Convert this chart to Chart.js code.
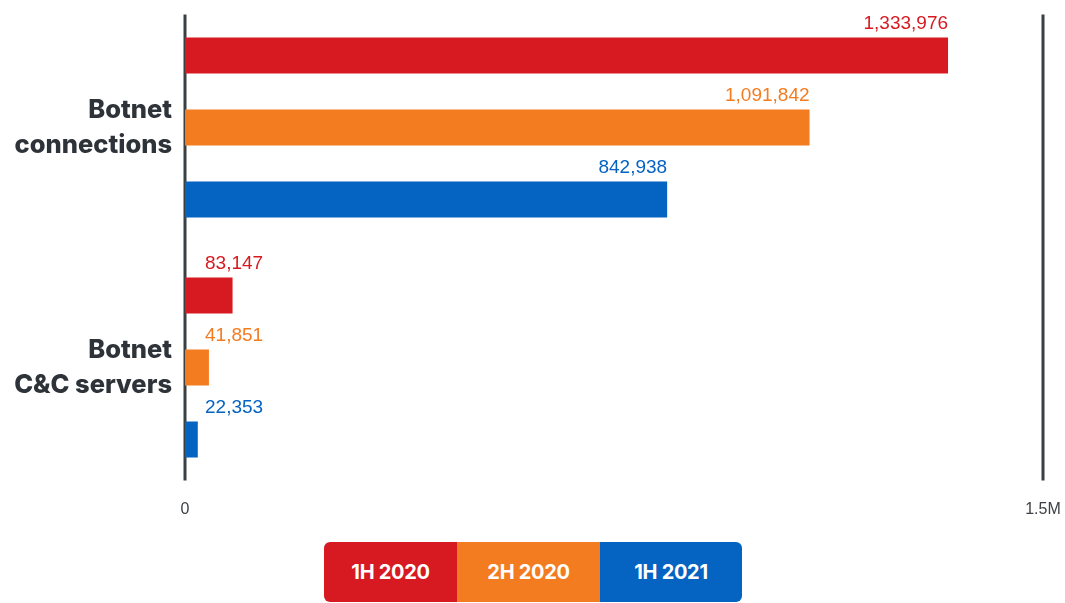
<!DOCTYPE html>
<html>
<head>
<meta charset="utf-8">
<script src="https://cdn.jsdelivr.net/npm/chart.js@4/dist/chart.umd.min.js"></script>
<style>
  body { margin: 0; background: #fff; width: 1065px; height: 603px; overflow: hidden; position: relative; }
  #chart { position: absolute; left: 0; top: 0; }
  #legend {
    position: absolute; left: 324px; top: 542px; height: 60px;
    display: flex; border-radius: 6px; overflow: hidden;
    font-family: Inter, "Noto Sans", sans-serif; font-weight: 700; font-size: 20px; color: #fff;
  }
  #legend div { display: flex; align-items: center; justify-content: center; letter-spacing: -0.3px; }
</style>
</head>
<body>
<canvas id="chart" width="1065" height="530"></canvas>
<div id="legend"></div>
<script>
// chart data
const categories = [['Botnet', 'connections'], ['Botnet', 'C&C servers']];
const periods = ['1H 2020', '2H 2020', '1H 2021'];
const values1H2020 = [1333976, 83147];
const values2H2020 = [1091842, 41851];
const values1H2021 = [842938, 22353];
const xTickValues = [0, 1500000];
const xTickLabels = ['0', '1.5M'];

const colors = ['#d71a21', '#f47c20', '#0563c1'];
const legendWidths = [133, 143, 142];
const axisColor = '#3a3f44';

// legend box under the chart
const legend = document.getElementById('legend');
periods.forEach((p, i) => {
  const d = document.createElement('div');
  d.textContent = p;
  d.style.background = colors[i];
  d.style.width = legendWidths[i] + 'px';
  legend.appendChild(d);
});

// the two vertical lines at 0 and 1.5M
const axisLines = {
  id: 'axisLines',
  beforeDatasetsDraw(chart) {
    const { ctx, chartArea, scales } = chart;
    ctx.save();
    ctx.strokeStyle = axisColor;
    ctx.lineWidth = 3;
    xTickValues.forEach(v => {
      const x = scales.x.getPixelForValue(v);
      ctx.beginPath();
      ctx.moveTo(x, chartArea.top + 7);
      ctx.lineTo(x, chartArea.bottom - 7);
      ctx.stroke();
    });
    ctx.restore();
  }
};

// value labels above each bar
const valueLabels = {
  id: 'valueLabels',
  afterDatasetsDraw(chart) {
    const ctx = chart.ctx;
    ctx.save();
    ctx.font = '19px "Liberation Sans", Arial, sans-serif';
    ctx.textBaseline = 'alphabetic';
    chart.data.datasets.forEach((ds, i) => {
      const meta = chart.getDatasetMeta(i);
      meta.data.forEach((bar, j) => {
        const text = ds.data[j].toLocaleString('en-US');
        const w = ctx.measureText(text).width;
        const y = bar.y - bar.height / 2 - 9;
        ctx.fillStyle = colors[i];
        if (bar.x - w < bar.base + 20) {
          ctx.textAlign = 'left';
          ctx.fillText(text, bar.base + 20, y);
        } else {
          ctx.textAlign = 'right';
          ctx.fillText(text, bar.x, y);
        }
      });
    });
    ctx.restore();
  }
};

new Chart(document.getElementById('chart'), {
  type: 'bar',
  data: {
    labels: categories,
    datasets: [
      { label: periods[0], data: values1H2020, backgroundColor: colors[0] },
      { label: periods[1], data: values2H2020, backgroundColor: colors[1] },
      { label: periods[2], data: values1H2021, backgroundColor: colors[2] }
    ]
  },
  options: {
    indexAxis: 'y',
    responsive: false,
    animation: false,
    layout: { padding: { top: 7.5, right: 22, left: 0, bottom: 0 } },
    datasets: { bar: { categoryPercentage: 0.9, barPercentage: 0.5 } },
    plugins: {
      legend: { display: false },
      tooltip: { enabled: false }
    },
    scales: {
      x: {
        min: 0,
        max: 1500000,
        afterBuildTicks(scale) { scale.ticks = xTickValues.map(v => ({ value: v })); },
        afterFit(scale) {
          scale.height = 42.5;
          scale.paddingLeft = 0;
          scale.paddingRight = 0;
        },
        grid: { display: false, drawTicks: false },
        border: { display: false },
        ticks: {
          padding: 12,
          color: '#3d4145',
          maxRotation: 0,
          font: { family: '"Liberation Sans", Arial, sans-serif', size: 16 },
          callback: (v) => xTickLabels[xTickValues.indexOf(v)]
        }
      },
      y: {
        afterFit(scale) {
          scale.width = 185;
          scale.paddingTop = 0;
          scale.paddingBottom = 0;
        },
        grid: { display: false, drawTicks: false },
        border: { display: false },
        ticks: {
          padding: 13,
          color: '#2d3338',
          font: { family: 'Inter, "Noto Sans", sans-serif', size: 25.5, weight: '800', lineHeight: 1.38 }
        }
      }
    }
  },
  plugins: [axisLines, valueLabels]
});
</script>
</body>
</html>
